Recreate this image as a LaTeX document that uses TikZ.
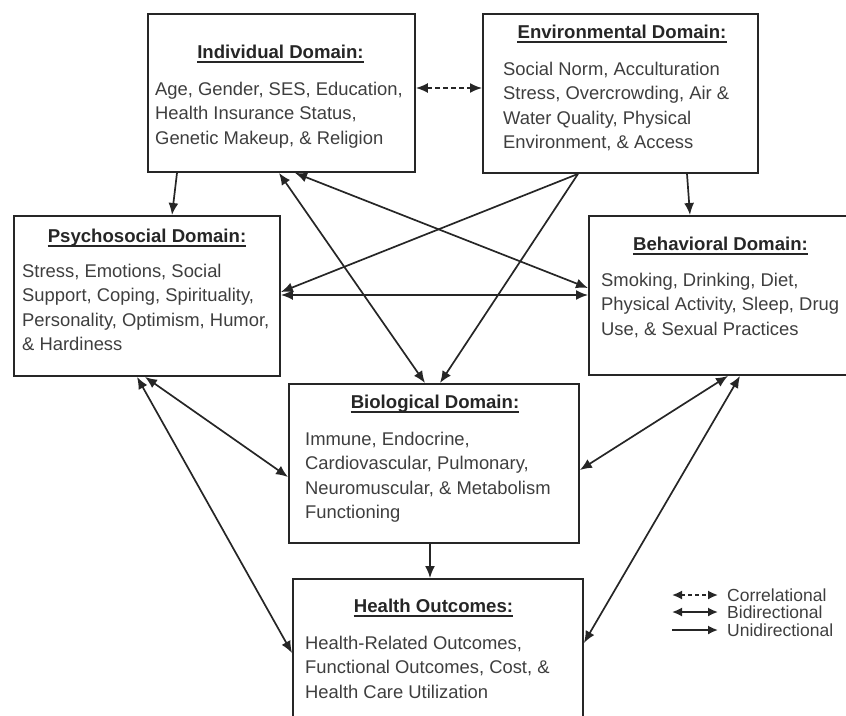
\documentclass[tikz,border=0pt]{standalone}
\usepackage{fontspec}
\setmainfont{Liberation Sans}
\usetikzlibrary{arrows.meta,calc}
\definecolor{ink}{HTML}{262626}
\definecolor{txt}{HTML}{3E3E3E}
\tikzset{
  box/.style={draw=ink, line width=1.9pt, rectangle, inner sep=0pt, anchor=north west},
  body/.style={anchor=north west, inner sep=0pt, align=left, text=txt, font=\fontsize{18.4}{24.5}\selectfont},
  ttl/.style={anchor=base, inner sep=0pt, text=ink, font=\bfseries\fontsize{18.6}{22}\selectfont},
  uline/.style={draw=ink, line width=2.8pt},
  conn/.style={draw=ink, line width=1.7pt},
  tip/.tip={Latex[length=12pt,width=10pt]},
  uni/.style={conn, -tip},
  bi/.style={conn, tip-tip},
  cor/.style={bi, dash pattern=on 5pt off 3pt},
  legtip/.tip={Latex[length=10pt,width=9pt]},
  leguni/.style={conn, -legtip},
  legbi/.style={conn, legtip-legtip},
  legcor/.style={legbi, dash pattern=on 4pt off 3pt},
  leg/.style={anchor=base west, inner sep=0pt, text=txt, font=\fontsize{17.5}{20}\selectfont},
}
\newcommand{\ttlline}[1]{\draw[uline] ($(#1.base west)+(0,4)$) -- ($(#1.base east)+(0,4)$);}
\begin{document}
\begin{tikzpicture}[x=1pt,y=-1pt]
\path[use as bounding box] (0,0) rectangle (846,715);
\clip (0,0) rectangle (846,715);

% boxes
\node[box, minimum width=267pt, minimum height=158pt] (ind) at (147,13) {};
\node[box, minimum width=275pt, minimum height=159pt] (env) at (482,13) {};
\node[box, minimum width=266pt, minimum height=160pt] (psy) at (13,215) {};
\node[box, minimum width=272pt, minimum height=159pt] (beh) at (588,215) {};
\node[box, minimum width=290pt, minimum height=159pt] (bio) at (288,383) {};
\node[box, minimum width=290pt, minimum height=165pt] (hea) at (292,578) {};

% titles
\node[ttl] (tind) at (280.5,58) {Individual Domain:};
\node[ttl] (tenv) at (622,38) {Environmental Domain:};
\node[ttl] (tpsy) at (147,242) {Psychosocial Domain:};
\node[ttl] (tbeh) at (720.5,250) {Behavioral Domain:};
\node[ttl] (tbio) at (435,408) {Biological Domain:};
\node[ttl] (thea) at (433.5,612) {Health Outcomes:};
\ttlline{tind}
\ttlline{tenv}
\ttlline{tpsy}
\ttlline{tbeh}
\ttlline{tbio}
\ttlline{thea}

% bodies
\node[body] (bind) at (155,81.8) {Age, Gender, SES, Education,\\Health Insurance Status,\\Genetic Makeup, \& Religion};
\node[body] (benv) at (503,61.8) {Social Norm, Acculturation\\Stress, Overcrowding, Air \&\\Water Quality, Physical\\Environment, \& Access};
\node[body] (bpsy) at (22,263.8) {Stress, Emotions, Social\\Support, Coping, Spirituality,\\Personality, Optimism, Humor,\\\& Hardiness};
\node[body] (bbeh) at (601,272.8) {Smoking, Drinking, Diet,\\Physical Activity, Sleep, Drug\\Use, \& Sexual Practices};
\node[body] (bbio) at (305,431.8) {Immune, Endocrine,\\Cardiovascular, Pulmonary,\\Neuromuscular, \& Metabolism\\Functioning};
\node[body] (bhea) at (305,635.8) {Health-Related Outcomes,\\Functional Outcomes, Cost, \&\\Health Care Utilization};

% connectors
\draw[cor] ($(ind.north east)+(0,75)$) -- ($(env.north west)+(0,75)$);
\draw[uni] ($(ind.south west)+(30,0)$) -- ($(psy.north west)+(159,0)$);
\draw[uni] ($(env.south west)+(205,0)$) -- ($(beh.north west)+(102,0)$);
\draw[bi] ($(ind.south west)+(132,0)$) -- ($(bio.north west)+(137,0)$);
\draw[bi] ($(ind.south west)+(148,0)$) -- ($(beh.north west)+(0,73)$);
\draw[uni] ($(env.south west)+(96,0)$) -- ($(psy.north east)+(0,77)$);
\draw[uni] ($(env.south west)+(96,0)$) -- ($(bio.north west)+(152,0)$);
\draw[bi] ($(psy.north east)+(0,80)$) -- ($(beh.north west)+(0,80)$);
\draw[bi] ($(psy.south west)+(132,0)$) -- ($(bio.north west)+(0,94)$);
\draw[bi] ($(psy.south west)+(124,0)$) -- ($(hea.north west)+(0,75)$);
\draw[bi] ($(beh.south west)+(140,0)$) -- ($(bio.north east)+(0,87)$);
\draw[bi] ($(beh.south west)+(152,0)$) -- ($(hea.north east)+(0,65)$);
\draw[uni] ($(bio.south west)+(142,0)$) -- ($(hea.north west)+(138,0)$);

% legend
\coordinate (l1a) at (672,595); \coordinate (l1b) at (718,595);
\coordinate (l2a) at (672,612); \coordinate (l2b) at (718,612);
\coordinate (l3a) at (672,630); \coordinate (l3b) at (718,630);
\draw[legcor] (l1a) -- (l1b);
\draw[legbi] (l2a) -- (l2b);
\draw[leguni] (l3a) -- (l3b);
\node[leg] (lg1) at (727,601) {Correlational};
\node[leg] (lg2) at (727,618) {Bidirectional};
\node[leg] (lg3) at (727,636) {Unidirectional};
\end{tikzpicture}
\end{document}
